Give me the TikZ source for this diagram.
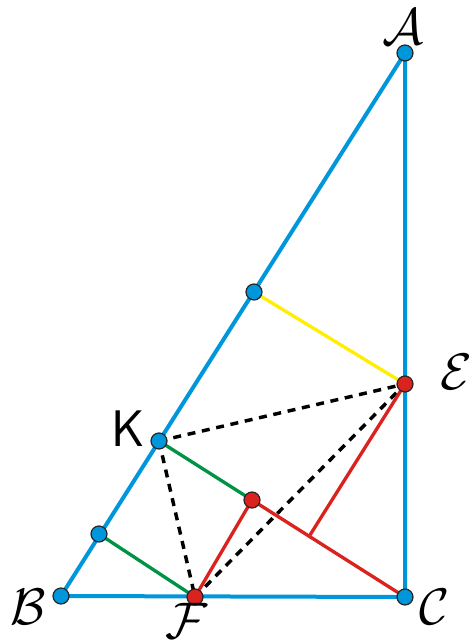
\documentclass[tikz,border=0pt]{standalone}
\usepackage{tikz}
\usetikzlibrary{positioning}
\definecolor{geoblue}{RGB}{0,150,220}
\definecolor{geored}{RGB}{218,35,30}
\definecolor{geogreen}{RGB}{0,146,69}
\definecolor{geoyellow}{RGB}{255,238,0}

\begin{document}
\begin{tikzpicture}[x=0.75pt, y=-0.75pt,
    side/.style={geoblue, line width=3pt},
    seg/.style={line width=2.5pt},
    hidden/.style={black, line width=2.6pt, dash pattern=on 6pt off 5pt},
    bdot/.style={circle, fill=geoblue, draw=black!85, line width=0.9pt, inner sep=0pt, minimum size=12pt},
    rdot/.style={bdot, fill=geored},
    lbl/.style={font=\Huge, scale=1.55, inner sep=0pt}]
    \useasboundingbox (0,0) rectangle (473,640);

    % Points
    \coordinate (a) at (405,53);
    \coordinate (b) at (61,596);
    \coordinate (c) at (405,597);
    \coordinate (e) at (405,384);
    \coordinate (k) at (159,441);
    \coordinate (f) at (195,597);
    \coordinate (m) at (252,500);
    \coordinate (p) at (99,534);
    \coordinate (q) at (254,292);
    \coordinate (h) at (310,535);

    % Triangle
    \draw[side, line join=round] (a) -- (b) -- (c) -- cycle;

    % Dashed lines
    \draw[hidden] (k) -- (e);
    \draw[hidden] (k) -- (f);
    \draw[hidden] (f) -- (e);

    % Coloured segments
    \draw[seg, geoyellow] (q) -- (e);
    \draw[seg, geogreen] (k) -- (m);
    \draw[seg, geogreen] (p) -- (f);
    \draw[seg, geored] (m) -- (c);
    \draw[seg, geored] (f) -- (m);
    \draw[seg, geored] (e) -- (h);

    % Dots
    \foreach \pt in {a,b,c,k,p,q} {
        \node[bdot] (dot\pt) at (\pt) {};
    }
    \foreach \pt in {e,f,m} {
        \node[rdot] (dot\pt) at (\pt) {};
    }

    % Labels
    \node[lbl] (la) at (403,27) {$\mathcal{A}$};
    \node[lbl] (lb) at (28,607) {$\mathcal{B}$};
    \node[lbl] (lc) at (435,607) {$\mathcal{C}$};
    \node[lbl] (le) at (456,372) {$\mathcal{E}$};
    \node[lbl] (lk) at (128,429) {\textsf{K}};
    \node[lbl] (lf) at (187,621) {$\mathcal{F}$};
\end{tikzpicture}
\end{document}
